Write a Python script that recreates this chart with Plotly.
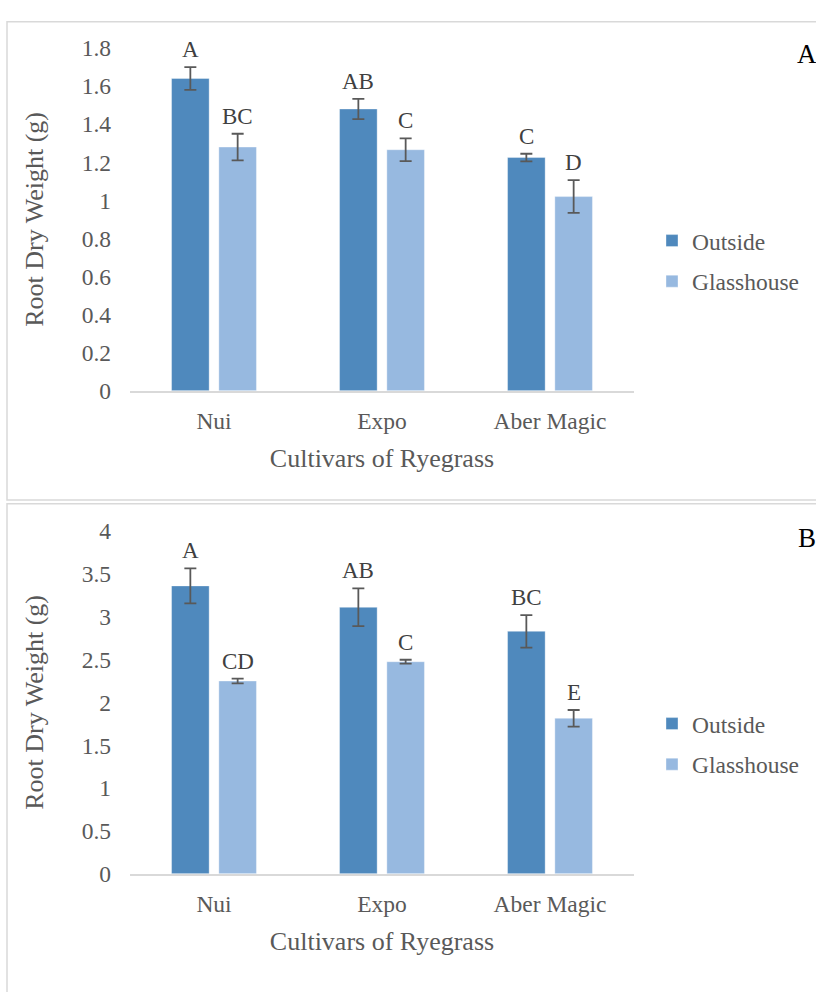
import plotly.graph_objects as go

W, H = 816, 992

cultivars = ["Nui", "Expo", "Aber Magic"]
series = ["Outside", "Glasshouse"]

# Panel A
a_outside = [1.64, 1.48, 1.225]
a_outside_err = [0.06, 0.053, 0.02]
a_glass = [1.28, 1.266, 1.02]
a_glass_err = [0.07, 0.06, 0.086]
a_letters_out = ["A", "AB", "C"]
a_letters_gl = ["BC", "C", "D"]

# Panel B
b_outside = [3.36, 3.11, 2.83]
b_outside_err = [0.205, 0.22, 0.19]
b_glass = [2.25, 2.475, 1.815]
b_glass_err = [0.027, 0.023, 0.097]
b_letters_out = ["A", "AB", "BC"]
b_letters_gl = ["CD", "C", "E"]

C_OUT = "#4F89BD"
C_GL = "#97B9E0"
TXT = "#595959"
FONT = "Liberation Serif, Times New Roman, serif"

fig = go.Figure()

def add_panel(xa, ya, out, out_e, gl, gl_e, lg):
    fig.add_trace(go.Bar(
        x=cultivars, y=out, name=series[0], xaxis=xa, yaxis=ya,
        marker=dict(color=C_OUT, line=dict(color="rgba(255,255,255,0.35)", width=1)),
        error_y=dict(type="data", array=out_e, color="#595959", thickness=1.8, width=6),
        legend=lg, legendgroup=lg + "o",
    ))
    fig.add_trace(go.Bar(
        x=cultivars, y=gl, name=series[1], xaxis=xa, yaxis=ya,
        marker=dict(color=C_GL, line=dict(color="rgba(255,255,255,0.35)", width=1)),
        error_y=dict(type="data", array=gl_e, color="#595959", thickness=1.8, width=6),
        legend=lg, legendgroup=lg + "g",
    ))

add_panel("x", "y", a_outside, a_outside_err, a_glass, a_glass_err, "legend")
add_panel("x2", "y2", b_outside, b_outside_err, b_glass, b_glass_err, "legend2")

annotations = []
def letters(xref, yref, vals, errs, labs, shift):
    for c, v, e, t in zip(cultivars, vals, errs, labs):
        annotations.append(dict(
            x=c, y=v + e, xref=xref, yref=yref, text=t, showarrow=False,
            xshift=shift, yshift=3, yanchor="bottom",
            font=dict(family=FONT, size=23, color="#404040"),
        ))

letters("x", "y", a_outside, a_outside_err, a_letters_out, -23.6)
letters("x", "y", a_glass, a_glass_err, a_letters_gl, 23.6)
letters("x2", "y2", b_outside, b_outside_err, b_letters_out, -23.6)
letters("x2", "y2", b_glass, b_glass_err, b_letters_gl, 23.6)

for lab, ypx in (("A", 42), ("B", 539)):
    annotations.append(dict(
        x=807 / W, y=1 - ypx / H, xref="paper", yref="paper", text=lab,
        showarrow=False, xanchor="center", yanchor="middle",
        font=dict(family=FONT, size=27, color="#000000"),
    ))

shapes = [
    dict(type="rect", xref="paper", yref="paper", x0=7 / W, x1=1.02,
         y0=1 - 500 / H, y1=1 - 9 / H, line=dict(color="#D9D9D9", width=1.5)),
    dict(type="rect", xref="paper", yref="paper", x0=7 / W, x1=1.02,
         y0=-0.02, y1=1 - 504 / H, line=dict(color="#D9D9D9", width=1.5)),
]

xdom = [130 / W, 634 / W]
def xaxis_cfg(anchor):
    return dict(
        domain=xdom, anchor=anchor, type="category",
        showline=True, linecolor="#D9D9D9", linewidth=1.5,
        showgrid=False, ticks="", ticklabelstandoff=8,
        tickfont=dict(family=FONT, size=23.5, color=TXT),
        title=dict(text="Cultivars of Ryegrass", standoff=16,
                   font=dict(family=FONT, size=26, color=TXT)),
    )

def yaxis_cfg(anchor, dom, rng, dt):
    return dict(
        domain=dom, anchor=anchor, range=rng, dtick=dt, tick0=0,
        showline=False, showgrid=False, zeroline=False, ticks="",
        ticklabelstandoff=18,
        tickfont=dict(family=FONT, size=23.5, color=TXT),
        title=dict(text="Root Dry Weight (g)", standoff=30,
                   font=dict(family=FONT, size=26, color=TXT)),
    )

legend_common = dict(
    xanchor="left", yanchor="middle", bgcolor="rgba(0,0,0,0)",
    font=dict(family=FONT, size=23.5, color=TXT), tracegroupgap=7,
    orientation="v",
)

fig.update_layout(
    width=W, height=H, margin=dict(l=0, r=0, t=0, b=0),
    font=dict(family=FONT, color=TXT),
    paper_bgcolor="white", plot_bgcolor="white",
    barmode="group", bargap=0.437, bargroupgap=0.205,
    xaxis=xaxis_cfg("y"), yaxis=yaxis_cfg("x", [1 - 388 / H, 1 - 36 / H], [0, 1.8], 0.2),
    xaxis2=xaxis_cfg("y2"), yaxis2=yaxis_cfg("x2", [1 - 884 / H, 1 - 532 / H], [0, 4], 0.5),
    legend=dict(x=652 / W, y=1 - 255 / H, **legend_common),
    legend2=dict(x=652 / W, y=1 - 751 / H, **legend_common),
    annotations=annotations, shapes=shapes, showlegend=True,
)

fig.write_html("out.html")
